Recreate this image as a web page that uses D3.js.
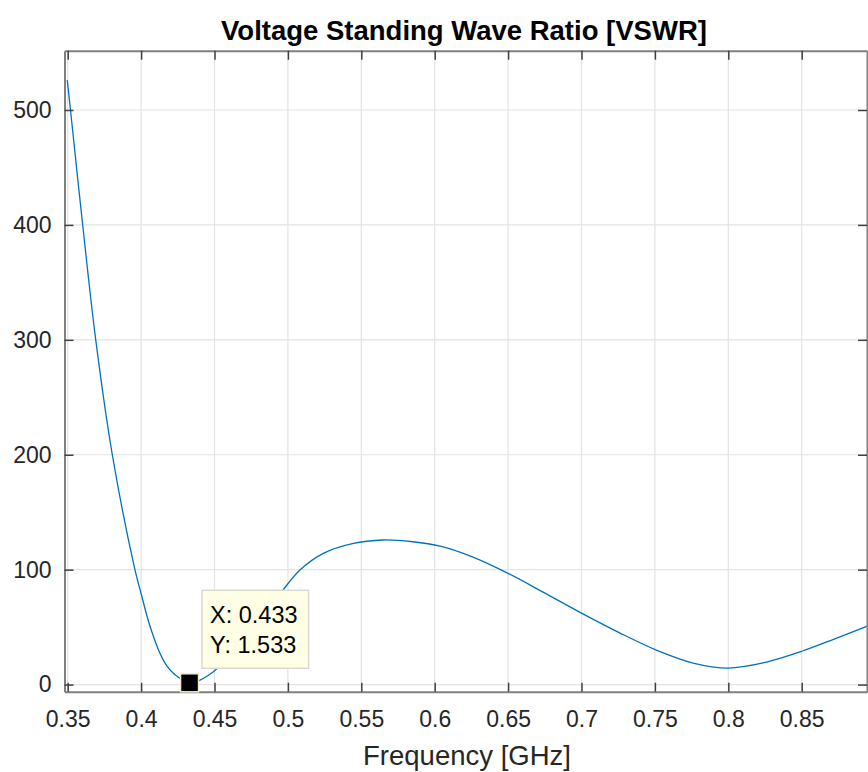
<!DOCTYPE html>
<html>
<head>
<meta charset="utf-8">
<script src="https://cdn.jsdelivr.net/npm/d3@7"></script>
<style>
  html, body { margin: 0; padding: 0; background: #ffffff; }
  svg { display: block; }
  text { font-family: "Liberation Sans", Arial, Helvetica, sans-serif; }
</style>
</head>
<body>
<svg id="chart" width="868" height="772"></svg>
<script>
// ---- data ----
const frequency = [0.3497, 0.3519, 0.3602, 0.3691, 0.3804, 0.3958, 0.3999, 0.4056, 0.4129, 0.4174,
                   0.4231, 0.4330, 0.4401, 0.4492, 0.4640, 0.4797, 0.4958, 0.5082, 0.5241, 0.5439,
                   0.5650, 0.5850, 0.6037, 0.6240, 0.6500, 0.6738, 0.7000, 0.7260, 0.7510, 0.7760,
                   0.8000, 0.8237, 0.8500, 0.8725, 0.8950];
const vswr      = [526, 500, 400, 300, 200, 100, 79.7, 52.7, 27, 16.5,
                   8.5, 1.533, 3.9, 11.2, 28.3, 52.7, 80.8, 99.7, 114.2, 122.7,
                   125.8, 124.3, 120.5, 112, 96.8, 80.5, 62.2, 45.0, 30.0, 18.75,
                   14.4, 18.9, 29, 39.8, 51];
const xTicks = [0.35, 0.4, 0.45, 0.5, 0.55, 0.6, 0.65, 0.7, 0.75, 0.8, 0.85];
const yTicks = [0, 100, 200, 300, 400, 500];
const xTickLabels = ["0.35", "0.4", "0.45", "0.5", "0.55", "0.6", "0.65", "0.7", "0.75", "0.8", "0.85"];
const yTickLabels = ["0", "100", "200", "300", "400", "500"];
const tipX = 0.433, tipY = 1.533;
const titleText = "Voltage Standing Wave Ratio [VSWR]";
const xLabelText = "Frequency [GHz]";

// ---- layout ----
const L = 64.5, R = 867, T = 50.7, B = 691.7;
const svg = d3.select("#chart");

const x = d3.scaleLinear().domain([0.34782, 0.89448]).range([L, R]);
const y = d3.scaleLinear().domain([-6.2, 551.6]).range([B, T]);

// grid
const grid = svg.append("g");
grid.selectAll("line.gx").data(xTicks).join("line")
  .attr("x1", d => x(d)).attr("x2", d => x(d)).attr("y1", T).attr("y2", B)
  .attr("stroke", "#e3e3e3").attr("stroke-width", 1.2);
grid.selectAll("line.gy").data(yTicks).join("line")
  .attr("x1", L).attr("x2", R).attr("y1", d => y(d)).attr("y2", d => y(d))
  .attr("stroke", "#e3e3e3").attr("stroke-width", 1.2);

// data line
const pts = frequency.map((f, i) => [f, vswr[i]]);
svg.append("clipPath").attr("id", "clip").append("rect")
  .attr("x", L).attr("y", T).attr("width", R - L).attr("height", B - T);
svg.append("path").datum(pts)
  .attr("clip-path", "url(#clip)")
  .attr("fill", "none").attr("stroke", "#0072BD").attr("stroke-width", 1.3)
  .attr("d", d3.line().x(d => x(d[0])).y(d => y(d[1])).curve(d3.curveCatmullRom.alpha(0.5)));

// axes (box with inward ticks)
const tickLen = 9;
const axB = d3.axisBottom(x).tickValues(xTicks).tickSizeInner(-tickLen).tickSizeOuter(0)
  .tickFormat((d, i) => xTickLabels[i]).tickPadding(19);
const axT = d3.axisTop(x).tickValues(xTicks).tickSizeInner(-tickLen).tickSizeOuter(0).tickFormat("");
const axL = d3.axisLeft(y).tickValues(yTicks).tickSizeInner(-tickLen).tickSizeOuter(0)
  .tickFormat((d, i) => yTickLabels[i]).tickPadding(13);
const axR = d3.axisRight(y).tickValues(yTicks).tickSizeInner(-tickLen).tickSizeOuter(0).tickFormat("");

function style(g) {
  g.select(".domain").attr("stroke", "#808080").attr("stroke-width", 2);
  g.selectAll(".tick line").attr("stroke", "#404040").attr("stroke-width", 1.5);
  g.selectAll(".tick text").attr("fill", "#262626").style("font-size", "23px")
   .style("font-family", "'Liberation Sans', Arial, sans-serif");
}
svg.append("g").attr("transform", `translate(0,${B})`).call(axB).call(style);
svg.append("g").attr("transform", `translate(0,${T})`).call(axT).call(style);
svg.append("g").attr("transform", `translate(${L},0)`).call(axL).call(style);
svg.append("g").attr("transform", `translate(${R},0)`).call(axR).call(style);

// title and x label
svg.append("text").attr("x", 464).attr("y", 40).attr("text-anchor", "middle")
  .attr("fill", "#000").style("font-size", "27.5px").style("font-weight", "bold").text(titleText);
svg.append("text").attr("x", 467).attr("y", 765).attr("text-anchor", "middle")
  .attr("fill", "#262626").style("font-size", "27.5px").text(xLabelText);

// data tip
const mx = x(tipX), my = y(tipY);
svg.append("rect").attr("x", mx - 9).attr("y", my - 9).attr("width", 18).attr("height", 18)
  .attr("fill", "#000").attr("stroke", "#f3edc4").attr("stroke-width", 1.5);
const bx = mx + 12.5, by = my - 92.5, bw = 106.5, bh = 78;
svg.append("rect").attr("x", bx).attr("y", by).attr("width", bw).attr("height", bh)
  .attr("fill", "#ffffe6").attr("stroke", "#d9d9d0").attr("stroke-width", 1.5);
svg.append("text").attr("x", bx + 8).attr("y", by + 33).attr("fill", "#000")
  .style("font-size", "23.5px").text("X: " + tipX.toFixed(3));
svg.append("text").attr("x", bx + 8).attr("y", by + 63).attr("fill", "#000")
  .style("font-size", "23.5px").text("Y: " + tipY.toFixed(3));
</script>
</body>
</html>
